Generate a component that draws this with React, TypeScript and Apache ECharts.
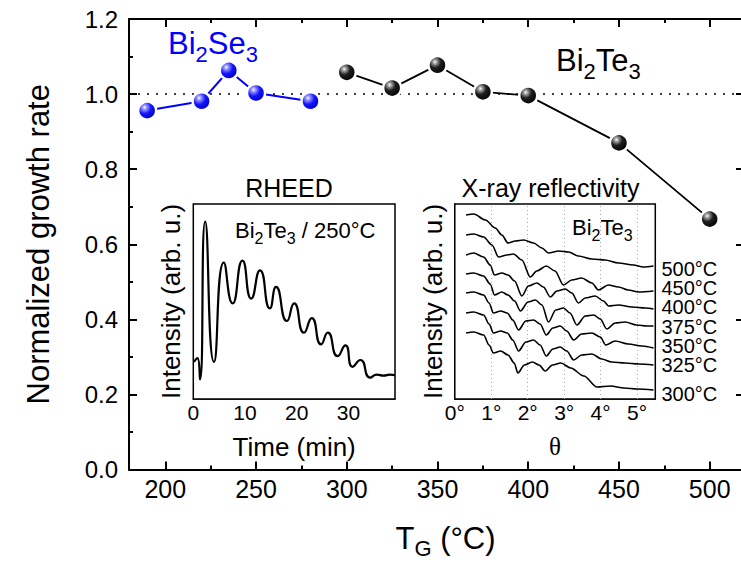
import React, { useEffect, useRef } from 'react';
import * as echarts from 'echarts';

const FONT = '"Liberation Sans", Arial, Helvetica, sans-serif';
const SERIF = '"Liberation Serif", "Times New Roman", serif';

// ---- main panel data ----
const seTemps = [190, 220, 235, 250, 280];
const seRates = [0.956, 0.981, 1.063, 1.003, 0.981];
const teTemps = [300, 325, 350, 375, 400, 450, 500];
const teRates = [1.058, 1.016, 1.077, 1.006, 0.996, 0.87, 0.667];
const xMajor = [200, 250, 300, 350, 400, 450, 500];
const xMinor = [225, 275, 325, 375, 425, 475];
const referenceRate = 1.0;

// ---- RHEED inset ----
const rheedTime = [0.1, 0.8, 1.3, 2.3, 4.0, 5.9, 7.6, 9.5, 11.2, 12.9, 14.8, 16.0, 18.1, 19.5, 21.4, 22.9, 24.7, 26.0, 27.9, 29.4, 30.8, 32.3, 34.2, 35.5, 36.8, 38.0, 39.0];
const rheedIntensity = [0.19, 0.21, 0.1, 0.91, 0.19, 0.7, 0.49, 0.71, 0.515, 0.66, 0.465, 0.575, 0.4, 0.49, 0.34, 0.415, 0.28, 0.34, 0.22, 0.275, 0.165, 0.2, 0.11, 0.125, 0.12, 0.125, 0.122];
const rheedTicks = [0, 10, 20, 30];

// ---- XRR inset ----
const xrrTicks = [0, 1, 2, 3, 4, 5];
const xrrMinor = [0.5, 1.5, 2.5, 3.5, 4.5];
const xrrLabels = ['500°C', '450°C', '400°C', '375°C', '350°C', '325°C', '300°C'];
const xrr500 = [[0.31,184],[0.52,185],[0.84,179],[1.11,171],[1.29,164],[1.46,156],[1.66,158],[1.89,159],[2.16,156],[2.39,151],[2.57,146],[2.85,148],[3.12,147],[3.39,143],[3.76,140],[4.12,139],[4.49,136],[4.9,134],[5.17,132],[5.45,133]];
const xrr450 = [[0.31,164],[0.52,165],[0.79,162],[1.02,154],[1.2,142],[1.43,144],[1.61,145],[1.84,139],[2.07,122],[2.25,128],[2.51,133],[2.75,128],[2.98,114],[3.21,119],[3.48,121],[3.76,116],[3.94,109],[4.21,114],[4.49,112],[4.76,109],[5.04,107],[5.45,108]];
const xrr400 = [[0.31,144],[0.52,146],[0.79,142],[0.97,134],[1.09,124],[1.29,126],[1.46,124],[1.64,118],[1.84,103],[2.02,113],[2.25,116],[2.43,112],[2.62,102],[2.8,108],[3.03,110],[3.21,106],[3.39,96],[3.58,101],[3.85,103],[4.08,98],[4.22,93],[4.49,94],[4.86,92],[5.22,91],[5.45,90]];
const xrr375 = [[0.31,125],[0.52,126],[0.79,123],[0.97,115],[1.09,104],[1.29,107],[1.46,104],[1.64,98],[1.8,88],[2.01,97],[2.21,99],[2.39,94],[2.57,77],[2.77,89],[2.98,91],[3.16,86],[3.35,74],[3.58,83],[3.81,84],[3.99,80],[4.17,70],[4.4,76],[4.67,77],[4.99,74],[5.27,73],[5.45,73]];
const xrr350 = [[0.31,106],[0.52,107],[0.79,104],[0.94,96],[1.06,86],[1.26,88],[1.44,86],[1.59,79],[1.75,69],[1.95,78],[2.16,79],[2.34,75],[2.51,64],[2.69,71],[2.89,73],[3.07,68],[3.26,59],[3.48,65],[3.76,66],[3.99,62],[4.14,54],[4.4,58],[4.76,55],[5.13,53],[5.45,51]];
const xrr325 = [[0.31,86],[0.52,87],[0.79,84],[0.94,75],[1.06,66],[1.26,68],[1.44,66],[1.59,59],[1.75,48],[1.95,57],[2.16,59],[2.34,54],[2.51,43],[2.69,50],[2.89,52],[3.07,48],[3.26,39],[3.48,44],[3.76,45],[4.03,40],[4.3,37],[4.67,36],[5.04,35],[5.45,34]];
const xrr300 = [[0.31,66],[0.52,67],[0.79,64],[0.94,54],[1.06,46],[1.26,48],[1.46,44],[1.63,36],[1.73,26],[1.91,34],[2.13,37],[2.31,34],[2.48,28],[2.68,34],[2.91,36],[3.18,31],[3.54,23],[3.9,12],[4.27,13],[4.64,11],[5.0,10],[5.45,9]];
const xrrCurves = [xrr500, xrr450, xrr400, xrr375, xrr350, xrr325, xrr300];

function ball(stops: [number, string][]) {
  return new echarts.graphic.RadialGradient(0.36, 0.32, 0.72, stops.map(([offset, color]) => ({ offset, color })));
}

function chem(parts: [string, boolean][], size: number, sub: number, color: string, x: number, y: number, lh: number) {
  const text = parts.map(([t, s]) => `{${s ? 's' : 'n'}|${t}}`).join('');
  return {
    type: 'text',
    x,
    y,
    z: 100,
    style: {
      text,
      align: 'left',
      textAlign: 'left',
      verticalAlign: 'middle',
      textVerticalAlign: 'middle',
      fill: color,
      rich: {
        n: { fontSize: size, fontFamily: FONT, fill: color, lineHeight: lh },
        s: { fontSize: sub, fontFamily: FONT, fill: color, lineHeight: sub, verticalAlign: 'bottom' },
      },
    },
  };
}

function plainText(text: string, x: number, y: number, size: number, align = 'center', family = FONT, lineHeight?: number) {
  return {
    type: 'text',
    x,
    y,
    z: 100,
    style: {
      text,
      fontSize: size,
      fontFamily: family,
      fill: '#000',
      align,
      textAlign: align,
      verticalAlign: 'middle',
      textVerticalAlign: 'middle',
      lineHeight: lineHeight ?? Math.round(size * 1.2),
    },
  };
}

export default function App() {
  const ref = useRef<HTMLDivElement>(null);
  useEffect(() => {
    if (!ref.current) return;
    const chart = echarts.init(ref.current, undefined, { renderer: 'svg' });
    const axisBlack = { color: '#000', width: 2 };
    const tempLabelY = [268.8, 287.8, 307, 326.5, 345.8, 364.8, 394];

    const option: any = {
      animation: false,
      backgroundColor: '#fff',
      textStyle: { fontFamily: FONT, color: '#000' },
      grid: [
        { left: 129, top: 19, right: -5, bottom: 93.5, containLabel: false, outerBoundsMode: 'none' },
        { left: 193.3, top: 204, width: 201.7, height: 195, show: true, backgroundColor: '#fff', borderColor: '#000', borderWidth: 1.5, z: 3, outerBoundsMode: 'none' },
        { left: 454.8, top: 204, width: 200.5, height: 195, show: true, backgroundColor: '#fff', borderColor: '#000', borderWidth: 1.5, z: 3, outerBoundsMode: 'none' },
      ],
      xAxis: [
        {
          gridIndex: 0, type: 'value', min: 180, max: 520, position: 'bottom',
          axisLine: { lineStyle: axisBlack },
          axisTick: { inside: true, length: 8, customValues: xMajor, lineStyle: axisBlack },
          axisLabel: { customValues: xMajor, fontSize: 25, fontFamily: FONT, color: '#000', margin: 7 },
          splitLine: { show: false },
          name: '{t|T}{g|G}{t| (°C)}', nameLocation: 'middle', nameGap: 48,
          nameTextStyle: {
            padding: [0, 0, 0, 16],
            rich: {
              t: { fontSize: 31, fontFamily: FONT, color: '#000', lineHeight: 42 },
              g: { fontSize: 22, fontFamily: FONT, color: '#000', lineHeight: 22, verticalAlign: 'bottom' },
            },
          },
        },
        {
          gridIndex: 0, type: 'value', min: 180, max: 520, position: 'bottom',
          axisLine: { show: false },
          axisTick: { inside: true, length: 4, customValues: xMinor, lineStyle: axisBlack },
          axisLabel: { show: false }, splitLine: { show: false },
        },
        {
          gridIndex: 0, type: 'value', min: 180, max: 520, position: 'top',
          axisLine: { lineStyle: axisBlack },
          axisTick: { inside: true, length: 8, customValues: xMajor, lineStyle: axisBlack },
          axisLabel: { show: false }, splitLine: { show: false },
        },
        {
          gridIndex: 0, type: 'value', min: 180, max: 520, position: 'top',
          axisLine: { show: false },
          axisTick: { inside: true, length: 4, customValues: xMinor, lineStyle: axisBlack },
          axisLabel: { show: false }, splitLine: { show: false },
        },
        {
          gridIndex: 1, type: 'value', min: 0, max: 39,
          axisLine: { lineStyle: { color: '#000', width: 1.5 } },
          axisTick: { inside: true, length: 5, customValues: [10, 20, 30], lineStyle: { color: '#000', width: 1.5 } },
          axisLabel: { customValues: rheedTicks, fontSize: 21, fontFamily: FONT, color: '#000', margin: 3 },
          splitLine: { show: false },
          name: 'Time (min)', nameLocation: 'middle', nameGap: 35,
          nameTextStyle: { fontSize: 26, fontFamily: FONT, color: '#000' },
        },
        {
          gridIndex: 2, type: 'value', min: 0, max: 5.5,
          axisLine: { lineStyle: { color: '#000', width: 1.5 } },
          axisTick: { inside: true, length: 5, customValues: [1, 2, 3, 4, 5], lineStyle: { color: '#000', width: 1.5 } },
          axisLabel: { customValues: xrrTicks, formatter: (v: number) => `${v}°`, fontSize: 21, fontFamily: FONT, color: '#000', margin: 3 },
          splitLine: { show: false },
          name: 'θ', nameLocation: 'middle', nameGap: 35,
          nameTextStyle: { fontSize: 25, fontFamily: SERIF, color: '#000' },
        },
        {
          gridIndex: 2, type: 'value', min: 0, max: 5.5,
          axisLine: { show: false },
          axisTick: { inside: true, length: 3, customValues: xrrMinor, lineStyle: { color: '#000', width: 1.5 } },
          axisLabel: { show: false }, splitLine: { show: false },
        },
      ],
      yAxis: [
        {
          gridIndex: 0, type: 'value', min: 0, max: 1.2, interval: 0.2, position: 'left',
          axisLine: { show: true, lineStyle: axisBlack },
          axisTick: { show: true, inside: true, length: 8, lineStyle: axisBlack },
          minorTick: { show: true, splitNumber: 2, length: 4, lineStyle: axisBlack },
          axisLabel: { formatter: (v: number) => v.toFixed(1), fontSize: 24, fontFamily: FONT, color: '#000', margin: 11 },
          splitLine: { show: false },
          name: 'Normalized growth rate', nameLocation: 'middle', nameGap: 75,
          nameTextStyle: { fontSize: 31, fontFamily: FONT, color: '#000' },
        },
        {
          gridIndex: 0, type: 'value', min: 0, max: 1.2, interval: 0.2, position: 'right',
          axisLine: { show: true, lineStyle: axisBlack },
          axisTick: { show: true, inside: true, length: 10, lineStyle: axisBlack },
          minorTick: { show: true, splitNumber: 2, length: 4, lineStyle: axisBlack },
          axisLabel: { show: false }, splitLine: { show: false },
        },
        {
          gridIndex: 1, type: 'value', min: 0, max: 1,
          axisLine: { show: true, lineStyle: { color: '#000', width: 1.5 } },
          axisTick: { show: false }, axisLabel: { show: false }, splitLine: { show: false },
          name: 'Intensity (arb. u.)', nameLocation: 'middle', nameGap: 9,
          nameTextStyle: { fontSize: 26, fontFamily: FONT, color: '#000' },
        },
        {
          gridIndex: 2, type: 'value', min: 0, max: 195,
          axisLine: { show: true, lineStyle: { color: '#000', width: 1.5 } },
          axisTick: { show: false }, axisLabel: { show: false }, splitLine: { show: false },
          name: 'Intensity (arb. u.)', nameLocation: 'middle', nameGap: 9,
          nameTextStyle: { fontSize: 26, fontFamily: FONT, color: '#000' },
        },
      ],
      series: [
        {
          name: 'Bi2Se3', type: 'line', xAxisIndex: 0, yAxisIndex: 0,
          data: seTemps.map((t, i) => [t, seRates[i]]),
          symbol: 'circle', symbolSize: 18,
          lineStyle: { color: '#0000ff', width: 2 },
          itemStyle: {
            color: ball([[0, '#ffffff'], [0.16, '#9a9aff'], [0.5, '#1414ff'], [1, '#0000b4']]),
            borderColor: '#fff', borderWidth: 2.5,
          },
          z: 5,
          markLine: {
            silent: true, symbol: 'none', label: { show: false },
            lineStyle: { type: [2, 7], color: '#000', width: 1.5 },
            data: [{ yAxis: referenceRate }],
            z: 1,
          },
        },
        {
          name: 'Bi2Te3', type: 'line', xAxisIndex: 0, yAxisIndex: 0,
          data: teTemps.map((t, i) => [t, teRates[i]]),
          symbol: 'circle', symbolSize: 18,
          lineStyle: { color: '#000', width: 1.8 },
          itemStyle: {
            color: ball([[0, '#ffffff'], [0.14, '#a8a8a8'], [0.45, '#1e1e1e'], [1, '#000000']]),
            borderColor: '#fff', borderWidth: 2.5,
          },
          z: 5,
        },
        {
          name: 'RHEED', type: 'line', xAxisIndex: 4, yAxisIndex: 2,
          data: rheedTime.map((t, i) => [t, rheedIntensity[i]]),
          symbol: 'none', smooth: 0.6,
          lineStyle: { color: '#000', width: 2.2 },
          z: 6,
        },
        ...xrrCurves.map((c, i) => ({
          name: xrrLabels[i], type: 'line', xAxisIndex: 5, yAxisIndex: 3,
          data: c, symbol: 'none', smooth: 0.3, smoothMonotone: 'x',
          lineStyle: { color: '#000', width: 1.6 },
          z: 6,
          markLine: i === 0 ? {
            silent: true, symbol: 'none', label: { show: false },
            lineStyle: { type: [1, 3], color: '#aaa', width: 1 },
            data: [1, 2, 3, 4, 5].map((v) => ({ xAxis: v })),
          } : undefined,
        })),
      ],
      graphic: [
        chem([['Bi', false], ['2', true], ['Se', false], ['3', true]], 31, 22, '#0000ff', 168, 43.3, 44),
        chem([['Bi', false], ['2', true], ['Te', false], ['3', true]], 31, 22, '#000', 556, 60.3, 44),
        chem([['Bi', false], ['2', true], ['Te', false], ['3', true], [' / 250°C', false]], 22, 16, '#000', 235, 230.8, 31),
        chem([['Bi', false], ['2', true], ['Te', false], ['3', true]], 22, 16, '#000', 572, 227.8, 31),
        plainText('RHEED', 289, 188, 25),
        plainText('X-ray reflectivity', 550.5, 188, 25),
        ...xrrLabels.map((l, i) => plainText(l, 661.5, tempLabelY[i], 20, 'left', FONT, 17)),
      ],
    };
    chart.setOption(option);
    return () => chart.dispose();
  }, []);
  return <div ref={ref} style={{ position: 'absolute', left: 0, top: 0, width: 741, height: 563 }} />;
}
